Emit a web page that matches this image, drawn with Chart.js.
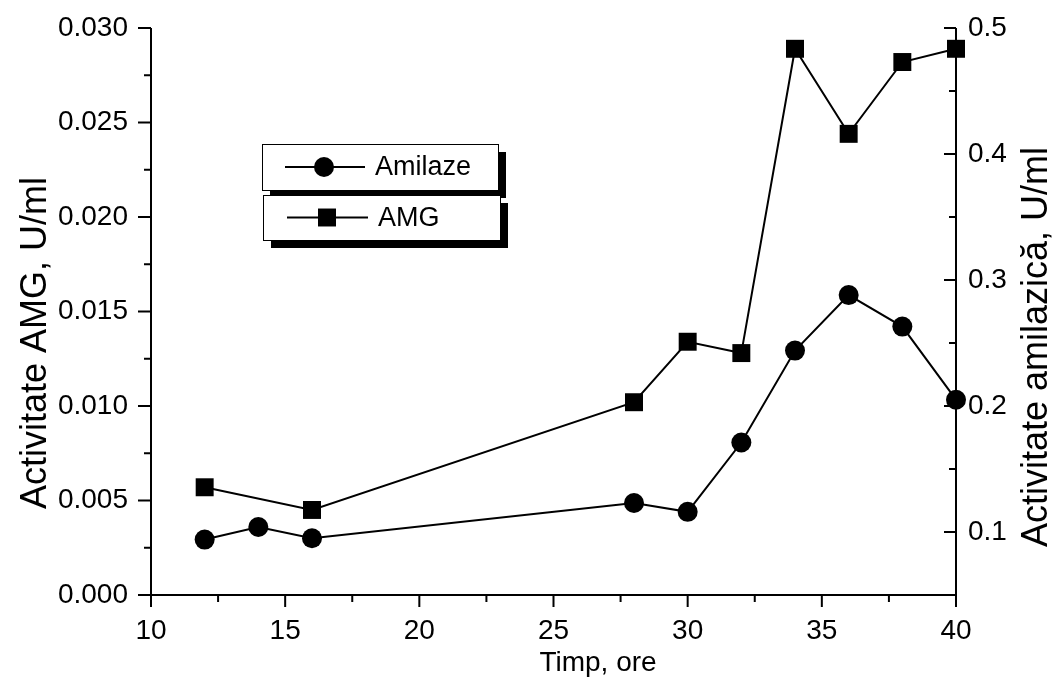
<!DOCTYPE html>
<html>
<head>
<meta charset="utf-8">
<script src="https://cdn.jsdelivr.net/npm/chart.js@4/dist/chart.umd.min.js"></script>
<style>
  html, body { margin: 0; padding: 0; background: #fff; }
  #wrap { width: 1054px; height: 686px; }
</style>
</head>
<body>
<div id="wrap"><canvas id="c" width="1054" height="686"></canvas></div>
<script>
// Sampling times (hours) and measured activities
const hours = [12, 14, 16, 28, 30, 32, 34, 36, 38, 40];
const amilaze = [0.094, 0.104, 0.095, 0.123, 0.116, 0.171, 0.244, 0.288, 0.263, 0.205];
const amgHours = [12, 16, 28, 30, 32, 34, 36, 38, 40];
const amg = [0.0057, 0.0045, 0.0102, 0.0134, 0.0128, 0.0289, 0.0244, 0.0282, 0.0289];

// Axis ticks
const xTicks = [10, 15, 20, 25, 30, 35, 40];
const xMinor = [12.5, 17.5, 22.5, 27.5, 32.5, 37.5];
const leftTicks = [0, 0.005, 0.010, 0.015, 0.020, 0.025, 0.030];
const leftTickLabels = ['0.000', '0.005', '0.010', '0.015', '0.020', '0.025', '0.030'];
const leftMinor = [0.0025, 0.0075, 0.0125, 0.0175, 0.0225, 0.0275];
const rightTicks = [0.1, 0.2, 0.3, 0.4, 0.5];
const rightTickLabels = ['0.1', '0.2', '0.3', '0.4', '0.5'];
const rightMinor = [0.15, 0.25, 0.35, 0.45];

const seriesNames = ['Amilaze', 'AMG'];
const titles = { x: 'Timp, ore', left: 'Activitate AMG, U/ml', right: 'Activitate amilazică, U/ml' };

const FONT = "'Liberation Sans', Arial, Helvetica, sans-serif";
Chart.defaults.font.family = FONT;
Chart.defaults.color = '#000';

// Axis lines, tick marks, axis titles and the boxed legend
const frame = {
  id: 'frame',
  afterDraw(chart) {
    const ctx = chart.ctx;
    const { left, right, top, bottom } = chart.chartArea;
    const sx = chart.scales.x, sl = chart.scales.yL, sr = chart.scales.yR;
    ctx.save();
    ctx.strokeStyle = '#000';
    ctx.fillStyle = '#000';
    ctx.lineWidth = 2;
    ctx.lineCap = 'butt';
    ctx.beginPath();
    ctx.moveTo(left, top); ctx.lineTo(left, bottom); ctx.lineTo(right, bottom);
    ctx.moveTo(right, top); ctx.lineTo(right, bottom);
    // bottom ticks (outward)
    xTicks.forEach(v => { const p = sx.getPixelForValue(v); ctx.moveTo(p, bottom); ctx.lineTo(p, bottom + 12); });
    xMinor.forEach(v => { const p = sx.getPixelForValue(v); ctx.moveTo(p, bottom); ctx.lineTo(p, bottom + 7); });
    // left ticks (outward)
    leftTicks.forEach(v => { const p = sl.getPixelForValue(v); ctx.moveTo(left, p); ctx.lineTo(left - 13, p); });
    leftMinor.forEach(v => { const p = sl.getPixelForValue(v); ctx.moveTo(left, p); ctx.lineTo(left - 7, p); });
    // right ticks (inward)
    rightTicks.forEach(v => { const p = sr.getPixelForValue(v); ctx.moveTo(right, p); ctx.lineTo(right - 12, p); });
    rightMinor.forEach(v => { const p = sr.getPixelForValue(v); ctx.moveTo(right, p); ctx.lineTo(right - 7, p); });
    ctx.stroke();

    // axis titles
    ctx.textAlign = 'center';
    ctx.textBaseline = 'middle';
    ctx.font = '28px ' + FONT;
    ctx.fillText(titles.x, 598, 663);
    ctx.font = '36px ' + FONT;
    ctx.save(); ctx.translate(36, 343); ctx.rotate(-Math.PI / 2); ctx.fillText(titles.left, 0, 0); ctx.restore();
    ctx.save(); ctx.translate(1037, 347); ctx.rotate(-Math.PI / 2); ctx.fillText(titles.right, 0, 0); ctx.restore();

    // legend: two shadowed boxes
    const boxes = [
      { ds: 0, x: 262, y: 144, w: 236, h: 46, lineX0: 285, lineX1: 365, mx: 324, tx: 375 },
      { ds: 1, x: 263, y: 195, w: 237, h: 45, lineX0: 287, lineX1: 368, mx: 327, tx: 378 }
    ];
    boxes.forEach(b => {
      const d = chart.data.datasets[b.ds];
      ctx.fillStyle = '#000';
      ctx.fillRect(b.x + 8, b.y + 8, b.w, b.h);
      ctx.fillStyle = '#fff';
      ctx.fillRect(b.x, b.y, b.w, b.h);
      ctx.lineWidth = 1;
      ctx.strokeStyle = '#000';
      ctx.strokeRect(b.x + 0.5, b.y + 0.5, b.w, b.h);
      const cy = b.y + b.h / 2;
      ctx.lineWidth = 2;
      ctx.beginPath(); ctx.moveTo(b.lineX0, cy); ctx.lineTo(b.lineX1, cy); ctx.stroke();
      ctx.fillStyle = '#000';
      Chart.helpers.drawPoint(ctx, { pointStyle: d.pointStyle, radius: d.pointRadius, rotation: 0, borderWidth: 0 }, b.mx, cy);
      ctx.font = '27px ' + FONT;
      ctx.textAlign = 'left';
      ctx.textBaseline = 'middle';
      ctx.fillText(d.label, b.tx, cy + 1);
    });
    ctx.restore();
  }
};

new Chart(document.getElementById('c'), {
  type: 'line',
  data: {
    datasets: [
      {
        label: seriesNames[0],
        data: hours.map((h, i) => ({ x: h, y: amilaze[i] })),
        yAxisID: 'yR',
        borderColor: '#000', backgroundColor: '#000', borderWidth: 2,
        pointStyle: 'circle', pointRadius: 10, pointBorderWidth: 0,
        pointBackgroundColor: '#000', clip: false, tension: 0
      },
      {
        label: seriesNames[1],
        data: amgHours.map((h, i) => ({ x: h, y: amg[i] })),
        yAxisID: 'yL',
        borderColor: '#000', backgroundColor: '#000', borderWidth: 2,
        pointStyle: 'rect', pointRadius: 12.7, pointBorderWidth: 0,
        pointBackgroundColor: '#000', clip: false, tension: 0
      }
    ]
  },
  options: {
    responsive: false,
    animation: false,
    devicePixelRatio: 1,
    layout: { padding: { top: 28, left: 0, right: 0, bottom: 0 } },
    plugins: { legend: { display: false }, title: { display: false }, tooltip: { enabled: false } },
    scales: {
      x: {
        type: 'linear', position: 'bottom', min: 10, max: 40,
        afterBuildTicks: s => { s.ticks = xTicks.map(v => ({ value: v })); },
        afterFit: s => { s.height = 91; s.paddingLeft = 0; s.paddingRight = 0; },
        grid: { display: false, drawTicks: false },
        border: { display: false },
        ticks: { font: { size: 28 }, color: '#000', padding: 19, maxRotation: 0, callback: v => String(v) }
      },
      yL: {
        type: 'linear', position: 'left', min: 0, max: 0.03,
        afterBuildTicks: s => { s.ticks = leftTicks.map(v => ({ value: v })); },
        afterFit: s => { s.width = 151; s.paddingTop = 0; s.paddingBottom = 0; },
        grid: { display: false, drawTicks: false },
        border: { display: false },
        ticks: { font: { size: 28 }, color: '#000', padding: 23, callback: (v, i) => leftTickLabels[i] }
      },
      yR: {
        type: 'linear', position: 'right', min: 0.05, max: 0.5,
        afterBuildTicks: s => { s.ticks = rightTicks.map(v => ({ value: v })); },
        afterFit: s => { s.width = 98; s.paddingTop = 0; s.paddingBottom = 0; },
        grid: { display: false, drawTicks: false },
        border: { display: false },
        ticks: { font: { size: 28 }, color: '#000', padding: 12, callback: (v, i) => rightTickLabels[i] }
      }
    }
  },
  plugins: [frame]
});
</script>
</body>
</html>
